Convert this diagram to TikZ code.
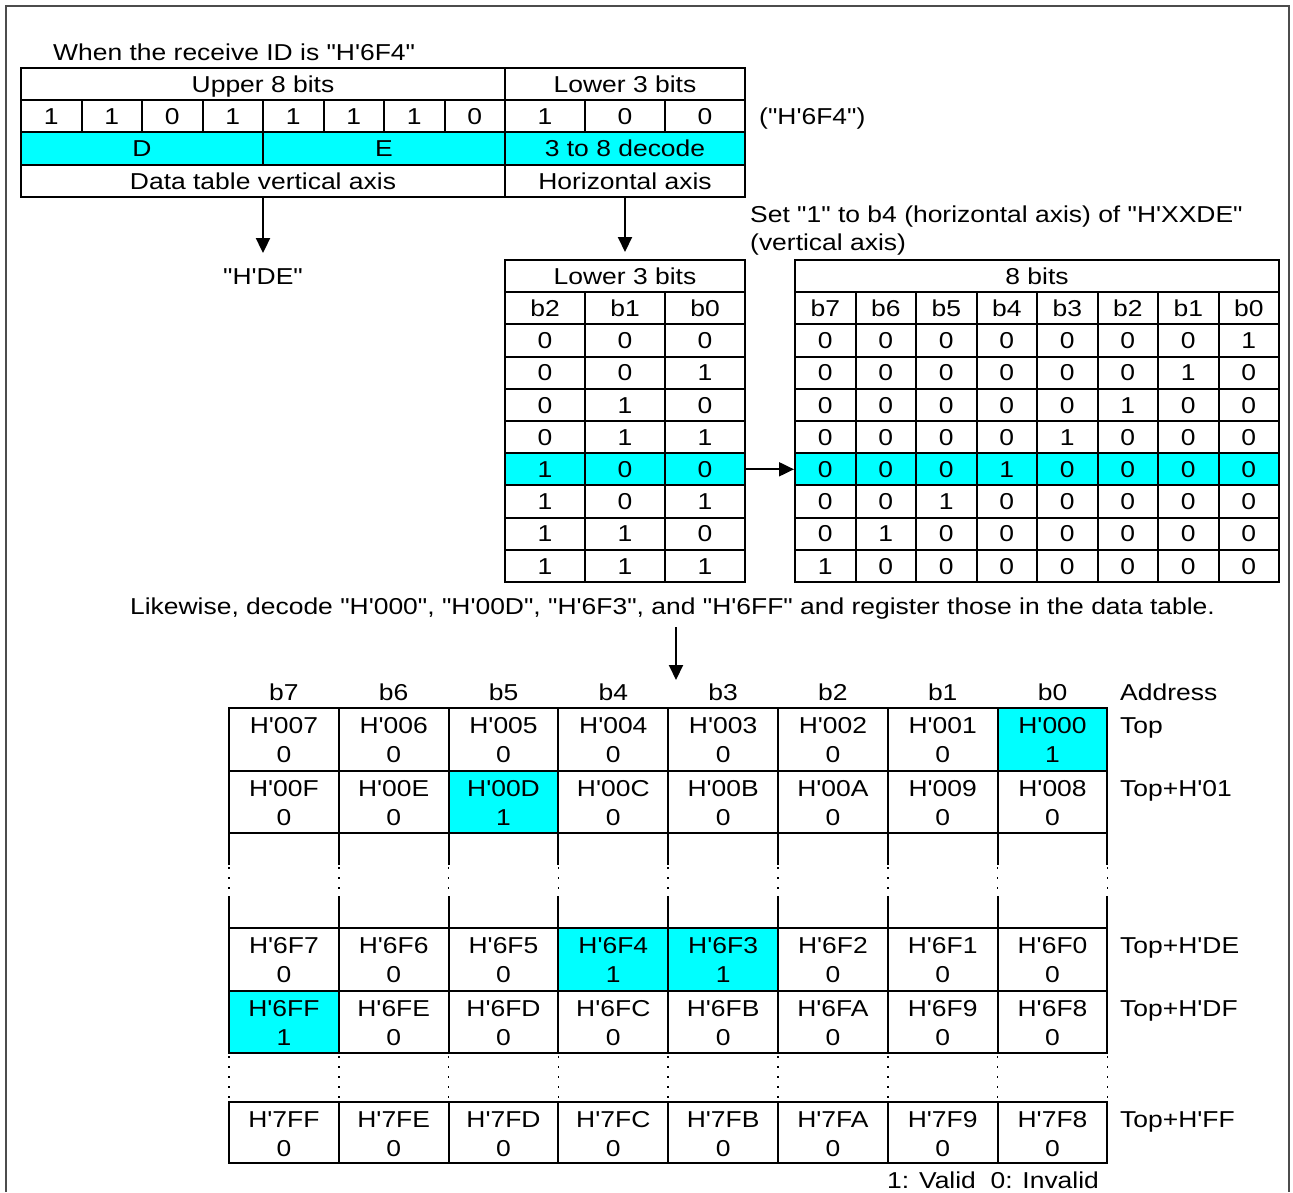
\documentclass[tikz,border=0pt]{standalone}
\usepackage{fontspec}
\newfontfamily\arialfont{Liberation Sans}[FakeStretch=1.15]
\usetikzlibrary{arrows.meta}
\definecolor{hitcyan}{RGB}{0,255,255}

\tikzset{
  cell/.style={draw, line width=2pt, inner sep=0pt, text height=16.5pt, text depth=0pt},
  txt/.style={inner sep=0pt, text height=16.5pt, text depth=0pt},
  v0/.style={},
  v1/.style={fill=hitcyan},
  arr/.style={-{Triangle[length=15pt,width=14pt]}, line width=2pt},
  dotline/.style={line width=1.5pt, dash pattern=on 2pt off 8pt},
}

\begin{document}
\begin{tikzpicture}[x=1pt,y=-1pt,font=\arialfont\fontsize{23}{27}\selectfont]
\useasboundingbox (0,0) rectangle (1293,1192);
\draw[line width=1.5pt, black!70] (6,1192) -- (6,6) -- (1289,6) -- (1289,1192);

\node[txt, anchor=west] (title) at (53,52) {When the receive ID is "H'6F4"};
\node[cell, minimum width=484pt, minimum height=32.25pt] (up8) at (263,84.1) {Upper 8 bits};
\node[cell, minimum width=240pt, minimum height=32.25pt] (lo3) at (625,84.1) {Lower 3 bits};
\foreach \b [count=\i from 0] in {1,1,0,1,1,1,1,0}
  \node[cell, minimum width=60.5pt, minimum height=32.25pt] (id-\i) at ({51.25+60.5*\i},116.4) {\b};
\foreach \b [count=\i from 8] in {1,0,0}
  \node[cell, minimum width=80pt, minimum height=32.25pt] (id-\i) at ({545+80*(\i-8)},116.4) {\b};
\node[txt, anchor=west] (idhex) at (759,116) {("H'6F4")};
\node[cell, v1, minimum width=242pt, minimum height=32.25pt] (dd) at (142,148.6) {D};
\node[cell, v1, minimum width=242pt, minimum height=32.25pt] (ee) at (384,148.6) {E};
\node[cell, v1, minimum width=240pt, minimum height=32.25pt] (dec) at (625,148.6) {3 to 8 decode};
\node[cell, minimum width=484pt, minimum height=32.25pt] (vaxis) at (263,180.9) {Data table vertical axis};
\node[cell, minimum width=240pt, minimum height=32.25pt] (haxis) at (625,180.9) {Horizontal axis};

\node[txt] (hde) at (263,276) {"H'DE"};
\node[txt, anchor=west] (set1) at (750,214) {Set "1" to b4 (horizontal axis) of "H'XXDE"};
\node[txt, anchor=west] (set2) at (750,242) {(vertical axis)};

\fill[hitcyan] (505,453.2) rectangle (745,485.4);
\fill[hitcyan] (795,453.2) rectangle (1279,485.4);
\node[cell, minimum width=240pt, minimum height=32.2pt] (l3head) at (625,276.1) {Lower 3 bits};
\node[cell, minimum width=484pt, minimum height=32.2pt] (h8head) at (1037,276.1) {8 bits};
\foreach \b [count=\c from 0] in {b2,b1,b0}
  \node[cell, minimum width=80pt, minimum height=32.2pt] (l3-b-\c) at ({545+80*\c},308.3) {\b};
\foreach \b [count=\c from 0] in {b7,b6,b5,b4,b3,b2,b1,b0}
  \node[cell, minimum width=60.5pt, minimum height=32.2pt] (h8-b-\c) at ({825.25+60.5*\c},308.3) {\b};
\foreach \r in {0,...,7} {
  \foreach \c in {0,1,2} {
    \pgfmathtruncatemacro\v{mod(floor(\r/2^(2-\c)),2)}
    \node[cell, minimum width=80pt, minimum height=32.2pt] (l3-\r-\c) at ({545+80*\c},{260+32.2*(\r+2.5)}) {\v};
  }
  \foreach \c in {0,...,7} {
    \pgfmathtruncatemacro\v{(7-\c)==\r}
    \node[cell, minimum width=60.5pt, minimum height=32.2pt] (h8-\r-\c) at ({825.25+60.5*\c},{260+32.2*(\r+2.5)}) {\v};
  }
}

\draw[arr, shorten >=14.5pt] (vaxis) -- (hde);
\draw[arr, shorten >=7pt] (haxis) -- (l3head);
\draw[arr] (l3-4-2) -- (h8-4-0);

\node[txt] (likewise) at (672.5,606) {Likewise, decode "H'000", "H'00D", "H'6F3", and "H'6FF" and register those in the data table.};
\coordinate (dn1) at (676,627);
\coordinate (dn2) at (676,680);
\draw[arr] (dn1) -- (dn2);

\foreach \b [count=\k from 0] in {b7,b6,b5,b4,b3,b2,b1,b0}
  \node[txt] (col-\k) at ({283.9+109.8*\k},692) {\b};
\node[txt, anchor=west] (addr) at (1120,692) {Address};
\foreach \t/\h/\lab/\cells in {
  708/63/Top/{007/0,006/0,005/0,004/0,003/0,002/0,001/0,000/1},
  771/62/Top+H'01/{00F/0,00E/0,00D/1,00C/0,00B/0,00A/0,009/0,008/0},
  928/63/Top+H'DE/{6F7/0,6F6/0,6F5/0,6F4/1,6F3/1,6F2/0,6F1/0,6F0/0},
  991/62/Top+H'DF/{6FF/1,6FE/0,6FD/0,6FC/0,6FB/0,6FA/0,6F9/0,6F8/0},
  1102/61/Top+H'FF/{7FF/0,7FE/0,7FD/0,7FC/0,7FB/0,7FA/0,7F9/0,7F8/0}} {
  \foreach \a/\v [count=\k from 0] in \cells {
    \node[cell, v\v, minimum width=109.8pt, minimum height=\h pt] (m-\t-\k) at ({283.9+109.8*\k},{\t+\h/2}) {};
    \node[txt] (a-\t-\k) at ({283.9+109.8*\k},\t+17) {H'\a};
    \node[txt] (d-\t-\k) at ({283.9+109.8*\k},\t+46.5) {\v};
  }
  \node[txt, anchor=west] (top-\t) at (1120,\t+17) {\lab};
}
\foreach \k in {0,...,8} {
  \draw[line width=2pt] ({229+109.8*\k},833) -- ({229+109.8*\k},865);
  \draw[dotline] ({229+109.8*\k},867) -- ({229+109.8*\k},893);
  \draw[line width=2pt] ({229+109.8*\k},896) -- ({229+109.8*\k},928);
  \draw[dotline] ({229+109.8*\k},1056) -- ({229+109.8*\k},1100);
}
\node[txt, anchor=west] (legend) at (887,1180) {1: Valid\ \ 0: Invalid};
\end{tikzpicture}
\end{document}
